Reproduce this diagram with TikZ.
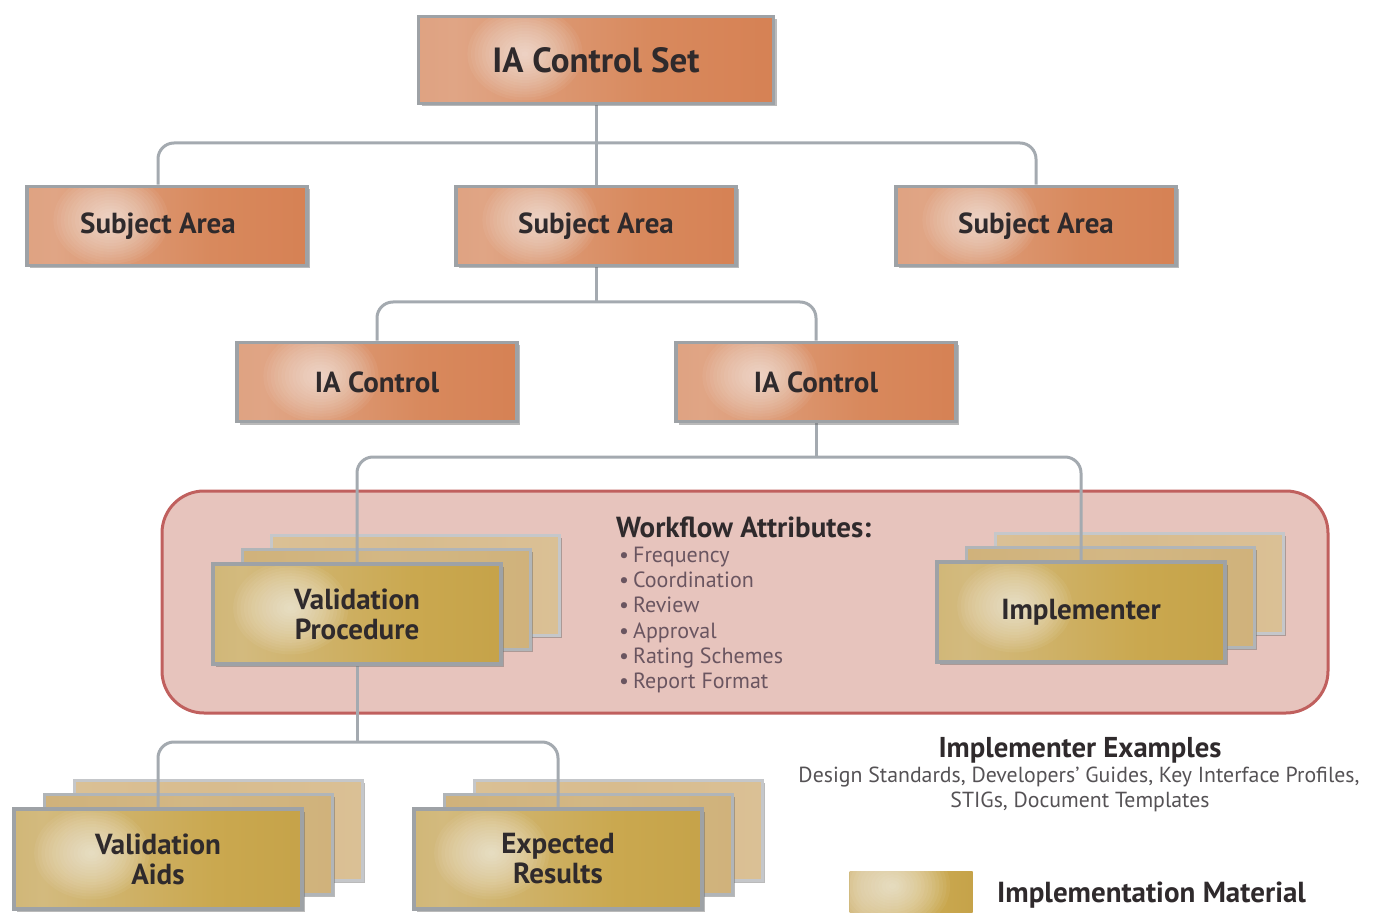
\documentclass[tikz,border=0pt]{standalone}
\usepackage{fontspec}
\setmainfont{PT Sans}
\usetikzlibrary{shadows,calc}
\definecolor{oA}{HTML}{D99572}
\definecolor{oB}{HTML}{E0A585}
\definecolor{oC}{HTML}{D8895D}
\definecolor{oD}{HTML}{D37647}
\definecolor{gA}{HTML}{C6A85A}
\definecolor{gB}{HTML}{D3BA7E}
\definecolor{gC}{HTML}{CAA84F}
\definecolor{gD}{HTML}{BE9A40}
\definecolor{tA}{HTML}{CCAD72}
\definecolor{tB}{HTML}{D3B784}
\definecolor{uA}{HTML}{DDC49C}
\definecolor{uB}{HTML}{D8BC8E}
\definecolor{frame}{HTML}{9EA2A6}
\definecolor{conncol}{HTML}{A4AAB0}
\definecolor{pinkfill}{HTML}{E7C4BD}
\definecolor{pinkline}{HTML}{C0605E}
\definecolor{txt}{HTML}{2F2A2C}
\definecolor{bullettxt}{HTML}{6A5560}
\definecolor{greytxt}{HTML}{555255}
\pgfdeclarehorizontalshading{orangebar}{100bp}{color(0bp)=(oA); color(30bp)=(oB); color(58bp)=(oC); color(100bp)=(oD)}
\pgfdeclarehorizontalshading{goldbar}{100bp}{color(0bp)=(gA); color(30bp)=(gB); color(60bp)=(gC); color(100bp)=(gD)}
\pgfdeclarehorizontalshading{tanbar}{100bp}{color(0bp)=(tA); color(50bp)=(tB); color(100bp)=(tA)}
\pgfdeclarehorizontalshading{lightbar}{100bp}{color(0bp)=(uA); color(50bp)=(uB); color(100bp)=(uA)}
\pgfdeclarelayer{bg}
\pgfdeclarelayer{cards}
\pgfdeclarelayer{lines}
\pgfsetlayers{bg,cards,lines,main}
\begin{document}
\begin{tikzpicture}[x=1pt,y=-1pt,
  shadowed/.style={drop shadow={shadow xshift=3pt,shadow yshift=-3pt,fill=black!60,opacity=.45}},
  glowing/.style={path picture={\foreach \k in {1,...,16} {\fill[white,opacity=0.055]
      ([yshift=6pt]$(path picture bounding box.west)!#1!(path picture bounding box.east)$)
      ellipse [x radius={3.6pt*\k}, y radius={2.9pt*\k}];}}},
  obox/.style={draw=frame, line width=3.5pt, shade, shading=orangebar, shadowed, glowing=0.3,
    minimum width=280pt, minimum height=79pt, inner sep=0pt, text=txt,
    font=\bfseries\fontsize{29}{30}\selectfont},
  gbox/.style={draw=frame, line width=3.5pt, shade, shading=goldbar, shadowed, glowing=0.27,
    minimum width=288pt, minimum height=100pt, inner sep=0pt, text=txt, align=center,
    font=\bfseries\fontsize{29}{30}\selectfont},
  gmid/.style={draw=frame!80, line width=3pt, shade, shading=tanbar, shadowed,
    minimum width=288pt, minimum height=100pt, inner sep=0pt},
  gback/.style={draw=frame!60, line width=3pt, shade, shading=lightbar, shadowed,
    minimum width=288pt, minimum height=100pt, inner sep=0pt},
  conn/.style={draw=conncol, line width=3pt, rounded corners=16pt},
  bul/.style={anchor=base west, inner sep=0pt, text=bullettxt, font=\fontsize{22}{24}\selectfont},
  exl/.style={anchor=base, inner sep=0pt, text=greytxt, font=\fontsize{21.8}{24}\selectfont}
]
\useasboundingbox (0,0) rectangle (1377,917);

% orange hierarchy
\node[obox, minimum width=355pt, minimum height=87pt, font=\bfseries\fontsize{35}{38}\selectfont] (top) at (596,60) {IA Control Set};
\node[obox] (sa1) at (167,226) {\hspace*{-18pt}Subject Area};
\node[obox] (sa2) at (596,226) {Subject Area};
\node[obox] (sa3) at (1036,226) {Subject Area};
\node[obox] (ia1) at (377,382) {IA Control};
\node[obox] (ia2) at (816,382) {IA Control};

% front gold cards
\node[gbox] (vp) at (357,614) {Validation\\Procedure};
\node[gbox] (im) at (1081,612) {Implementer};
\node[gbox] (va) at (158,859) {Validation\\Aids};
\node[gbox] (er) at (558,859) {Expected\\Results};

% workflow region and back cards
\begin{pgfonlayer}{bg}
\node[draw=pinkline, line width=3pt, fill=pinkfill, rounded corners=42pt,
  minimum width=1166pt, minimum height=222pt] (wf) at (745,602) {};
\end{pgfonlayer}
\begin{pgfonlayer}{cards}
\node[gback] (vpb2) at (415,585) {};
\node[gmid]  (vpb1) at (386,599) {};
\node[gback] (imb2) at (1139,583) {};
\node[gmid]  (imb1) at (1110,597) {};
\node[gback] (vab2) at (218,830) {};
\node[gmid]  (vab1) at (188,844) {};
\node[gback] (erb2) at (618,830) {};
\node[gmid]  (erb1) at (588,844) {};
\end{pgfonlayer}

% connectors
\coordinate (j1) at (596,143);
\coordinate (j2) at (596,302);
\coordinate (j3) at (816,457);
\coordinate (j4) at (357,742);
\begin{pgfonlayer}{lines}
\draw[conn] ([xshift=-9pt]sa1.north) |- (j1) -| (sa3.north);
\draw[conn] (top.south) -- (sa2.north);
\draw[conn] (ia1.north) |- (j2) -| (ia2.north);
\draw[conn] (sa2.south) -- (j2);
\draw[conn] (vp.north) |- (j3) -| (im.north);
\draw[conn] (ia2.south) -- (j3);
\draw[conn] (va.north) |- (j4) -| (er.north);
\draw[conn] (vp.south) -- (j4);
\end{pgfonlayer}

% workflow attributes
\node[anchor=base west, inner sep=0pt, text=txt, font=\bfseries\fontsize{29}{30}\selectfont] (wft) at (616,537) {Workflow Attributes:};
\node[bul] (b1) at (619,562) {•\hspace{4pt}Frequency};
\node[bul] (b2) at (619,587) {•\hspace{4pt}Coordination};
\node[bul] (b3) at (619,612.5) {•\hspace{4pt}Review};
\node[bul] (b4) at (619,638) {•\hspace{4pt}Approval};
\node[bul] (b5) at (619,663) {•\hspace{4pt}Rating Schemes};
\node[bul] (b6) at (619,688) {•\hspace{4pt}Report Format};

% implementer examples
\node[anchor=base, inner sep=0pt, text=txt, font=\bfseries\fontsize{28.7}{30}\selectfont] (iex) at (1080,757) {Implementer Examples};
\node[exl] (ex1) at (1079,782) {Design Standards, Developers’ Guides, Key Interface Profiles,};
\node[exl] (ex2) at (1080,807) {STIGs, Document Templates};

% legend
\node[shade, shading=goldbar, glowing=0.35, minimum width=123pt, minimum height=41pt, inner sep=0pt] (leg) at (911,892) {};
\node[anchor=base west, inner sep=0pt, text=txt, font=\bfseries\fontsize{29}{30}\selectfont] (legt) at (997,902) {Implementation Material};
\end{tikzpicture}
\end{document}
